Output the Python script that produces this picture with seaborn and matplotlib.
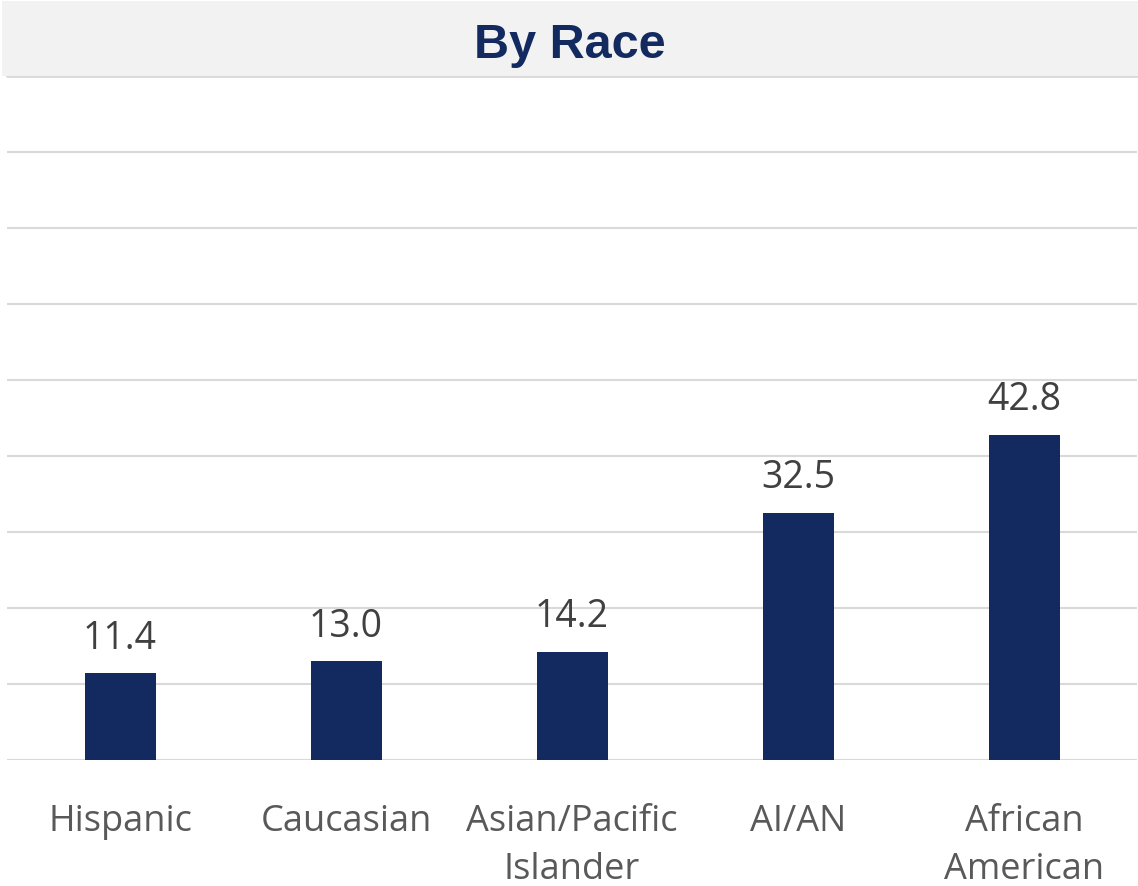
import numpy as np
import pandas as pd
import seaborn as sns
import matplotlib.pyplot as plt
from matplotlib.patches import Rectangle

categories = ["Hispanic", "Caucasian", "Asian/Pacific\nIslander", "AI/AN", "African\nAmerican"]
rates = [11.4, 13.0, 14.2, 32.5, 42.8]

navy = "#122a5f"
grid_grey = "#d9d9d9"

sns.set_theme(style="white")
plt.rcParams["font.family"] = ["Open Sans", "DejaVu Sans"]

df = pd.DataFrame({"race": categories, "rate": rates})

fig = plt.figure(figsize=(11.38, 8.87), dpi=100)
ax = fig.add_axes([0.0062, 0.142, 0.993, 0.771])

sns.barplot(data=df, x="race", y="rate", color=navy, width=0.314,
            saturation=1, linewidth=0, ax=ax)

# light grey header band with the title
fig.patches.append(Rectangle((0.002, 0.913), 0.998, 0.085, transform=fig.transFigure,
                             facecolor="#f2f2f2", edgecolor="none", zorder=0))
fig.text(0.501, 0.9346, "By Race", ha="center", va="baseline", fontsize=35,
         fontweight="bold", color=navy, family=["Liberation Sans", "DejaVu Sans"])

ax.set_ylim(0, 90)
ax.set_yticks(range(0, 91, 10))
ax.yaxis.grid(True, color=grid_grey, lw=1.5)
ax.axhline(90, color=grid_grey, lw=2, clip_on=False)
ax.set_axisbelow(True)
ax.tick_params(axis="y", left=False, labelleft=False)
ax.tick_params(axis="x", length=0, pad=31, labelsize=26, labelcolor="#595959")
for lab in ax.get_xticklabels():
    lab.set_linespacing(1.45)
sns.despine(ax=ax, left=True, bottom=True)
ax.set_xlabel("")
ax.set_ylabel("")

ax.bar_label(ax.containers[0], fmt="%.1f", padding=12, fontsize=27, color="#404040")

fig.savefig("out.png", dpi=100)
plt.close()
